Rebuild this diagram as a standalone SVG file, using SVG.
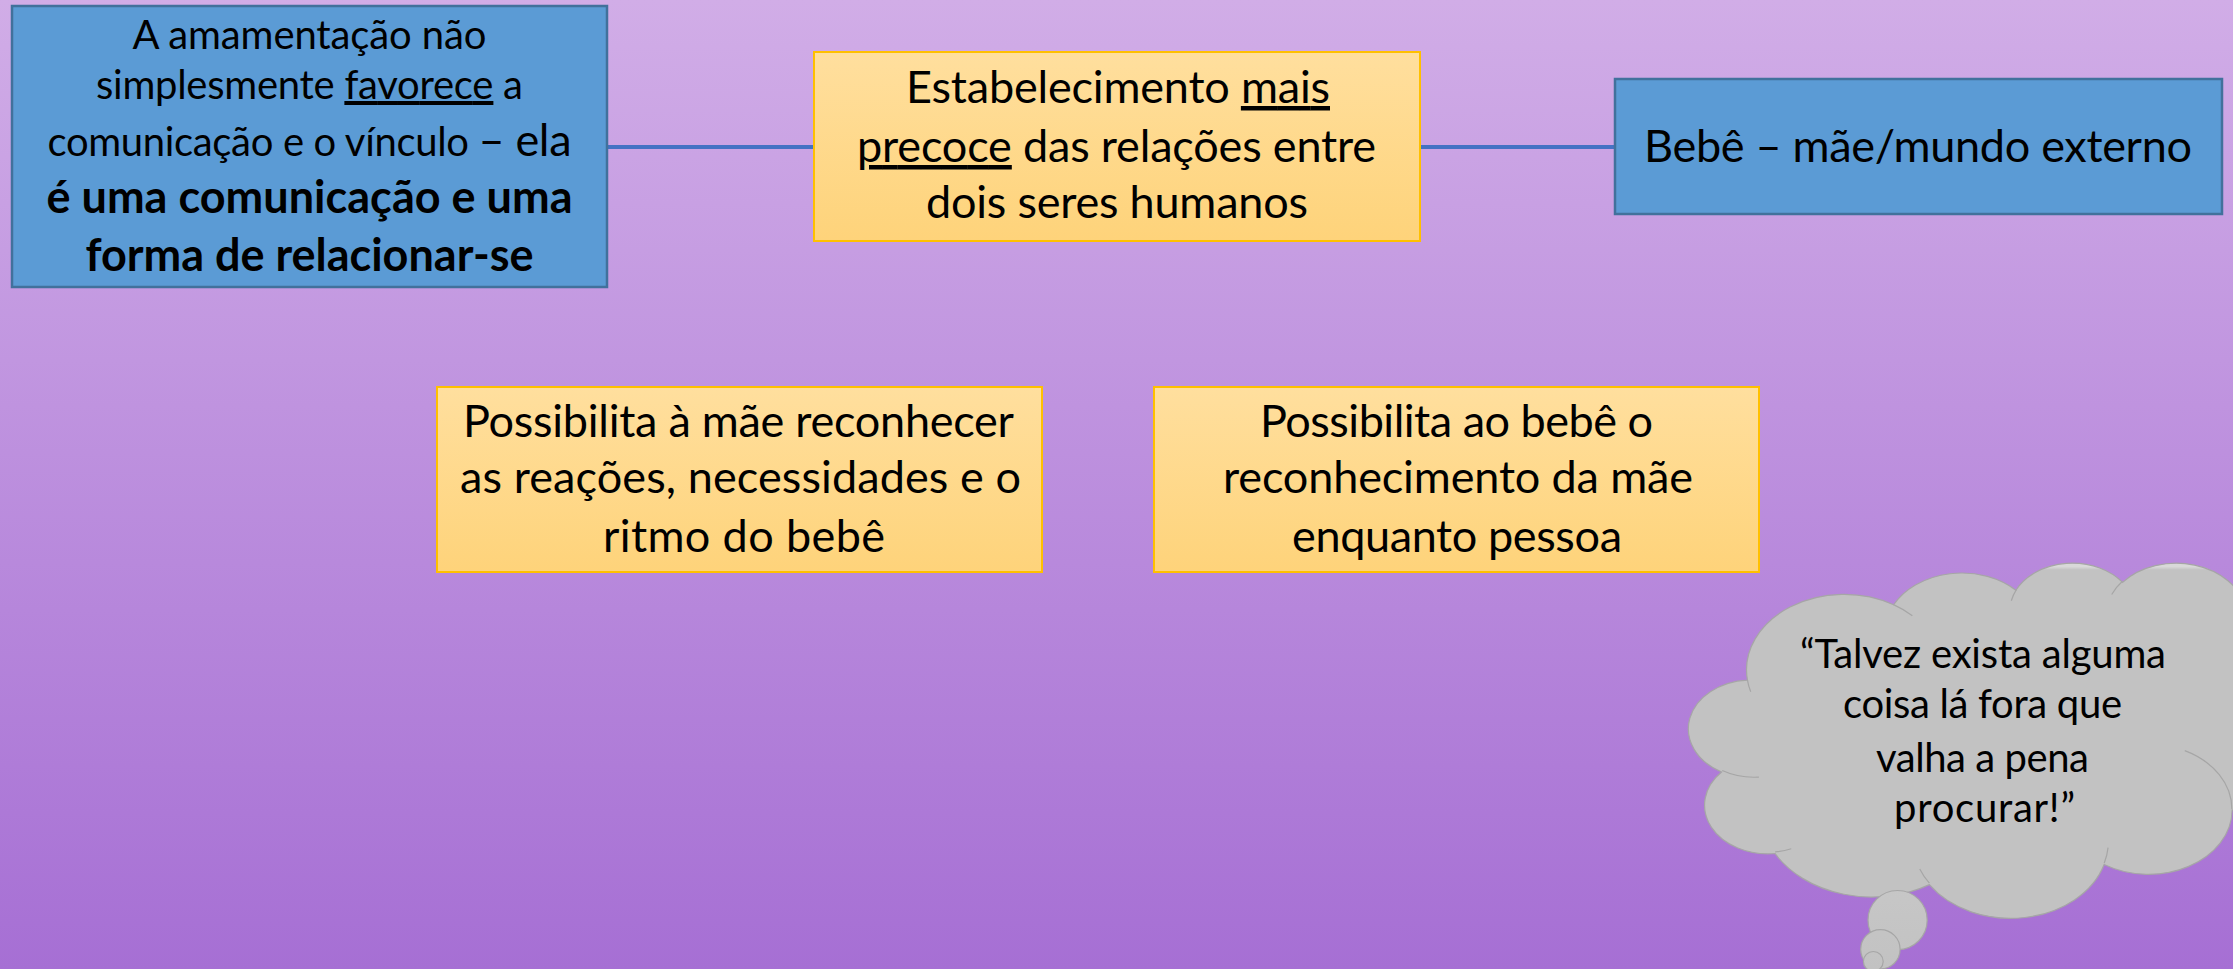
<svg xmlns="http://www.w3.org/2000/svg" width="2233" height="969" viewBox="0 0 2233 969">
<defs>
<linearGradient id="bg" x1="0" y1="0" x2="0" y2="1">
<stop offset="0" stop-color="#D1ADE7"/>
<stop offset="1" stop-color="#A66FD4"/>
</linearGradient>
<linearGradient id="org" x1="0" y1="0" x2="0" y2="1">
<stop offset="0" stop-color="#FFDF9E"/>
<stop offset="1" stop-color="#FED37A"/>
</linearGradient>
<linearGradient id="cloudg" gradientUnits="userSpaceOnUse" x1="0" y1="562" x2="0" y2="970">
<stop offset="0" stop-color="#D9D9D9"/>
<stop offset="1" stop-color="#C2C2C2"/>
</linearGradient>
<style>
.blue{fill:#5B9BD5;stroke:#41719C;stroke-width:2.5}
.orange{fill:url(#org);stroke:#FFC000;stroke-width:2}
.conn{stroke:#4472C4;stroke-width:4;fill:none}
.t{font-family:Lato,"Liberation Sans",sans-serif;fill:#000;text-anchor:middle}
.r{font-size:40px}
.b{font-size:45px;font-weight:bold}
.m{font-size:45px}
.c{font-size:40px}
.u{text-decoration:underline}
.cl{fill:url(#cloudg);stroke:#A6A6A6;stroke-width:1.2}
.cli{fill:none;stroke:#A6A6A6;stroke-width:1.2}
</style>
</defs>
<rect x="0" y="0" width="2233" height="969" fill="url(#bg)"/>

<g id="connectors">
<line class="conn" x1="607" y1="147" x2="814" y2="147"/>
<line class="conn" x1="1420" y1="147" x2="1615" y2="147"/>
</g>

<g id="node-amamentacao">
<rect class="blue" x="12" y="6" width="595" height="281"/>
<text class="t r" x="309.5" y="49" textLength="354">A amamentação não</text>
<text class="t r" x="309.5" y="99" textLength="427">simplesmente <tspan class="u">favorece</tspan> a</text>
<text class="t r" x="309.5" y="156" textLength="524">comunicação e o vínculo <tspan class="m">– ela</tspan></text>
<text class="t b" x="309.5" y="213" textLength="526">é uma comunicação e uma</text>
<text class="t b" x="309.5" y="271" textLength="448">forma de relacionar-se</text>
</g>

<g id="node-estabelecimento">
<rect class="orange" x="814" y="52" width="606" height="189"/>
<text class="t m" x="1118" y="103" textLength="424">Estabelecimento <tspan class="u">mais</tspan></text>
<text class="t m" x="1116.5" y="162" textLength="519"><tspan class="u">precoce</tspan> das relações entre</text>
<text class="t m" x="1117" y="218" textLength="382">dois seres humanos</text>
</g>

<g id="node-bebe">
<rect class="blue" x="1615" y="79" width="607" height="135"/>
<text class="t m" x="1918" y="162" textLength="548">Bebê – mãe/mundo externo</text>
</g>

<g id="node-mae">
<rect class="orange" x="437" y="387" width="605" height="185"/>
<text class="t m" x="738.5" y="437" textLength="551">Possibilita à mãe reconhecer</text>
<text class="t m" x="740.5" y="493" textLength="561">as reações, necessidades e o</text>
<text class="t m" x="744" y="552" textLength="282">ritmo do bebê</text>
</g>

<g id="node-bebe-reconhece">
<rect class="orange" x="1154" y="387" width="605" height="185"/>
<text class="t m" x="1456.5" y="437" textLength="393">Possibilita ao bebê o</text>
<text class="t m" x="1458" y="493" textLength="470">reconhecimento da mãe</text>
<text class="t m" x="1457" y="552" textLength="330">enquanto pessoa</text>
</g>

<g id="node-cloud">
<g transform="translate(1691,562) scale(0.0144676,0.0082176)">
<path class="cl" vector-effect="non-scaling-stroke" d="M3900 14370 A6753 9190 0 0 1 14005 5202 A5333 7267 0 0 1 22456 3432 A4365 5945 0 0 1 29833 2481 A4857 6595 0 0 1 38318 5576 A5333 7273 0 0 1 41818 15460 A6775 9220 0 0 1 37404 30203 A5785 7867 0 0 1 28556 36813 A6752 9215 0 0 1 16480 39264 A7720 10543 0 0 1 5805 35470 A4360 5918 0 0 1 2114 25548 A4345 5945 0 0 1 3900 14370 Z"/>
<path class="cli" vector-effect="non-scaling-stroke" d="M4693 26177 A4345 5945 0 0 1 2159 25380 M6928 34899 A4360 5918 0 0 1 5819 35281 M16478 39090 A6752 9215 0 0 1 15810 37351 M28827 34751 A6752 9215 0 0 1 28560 36660 M34129 22954 A5785 7867 0 0 1 37381 30089 M41798 15354 A5333 7273 0 0 1 40350 18031 M38324 5426 A4857 6595 0 0 1 38400 6690 M29078 3952 A4857 6595 0 0 1 29820 2341 M22141 4720 A4365 5945 0 0 1 22501 3330 M14000 5192 A6753 9190 0 0 1 15300 6540 M4127 15789 A6753 9190 0 0 1 3901 14370"/>
</g>
<circle class="cl" cx="1897.6" cy="920.1" r="29.6"/>
<circle class="cl" cx="1880.4" cy="949.3" r="19.7"/>
<circle class="cl" cx="1873.3" cy="961.4" r="9.9"/>
<text class="t c" x="1983" y="668" textLength="366">“Talvez exista alguma</text>
<text class="t c" x="1982.5" y="718" textLength="279">coisa lá fora que</text>
<text class="t c" x="1982.5" y="772" textLength="213">valha a pena</text>
<text class="t c" x="1984.5" y="822" textLength="181">procurar!”</text>
</g>
</svg>
